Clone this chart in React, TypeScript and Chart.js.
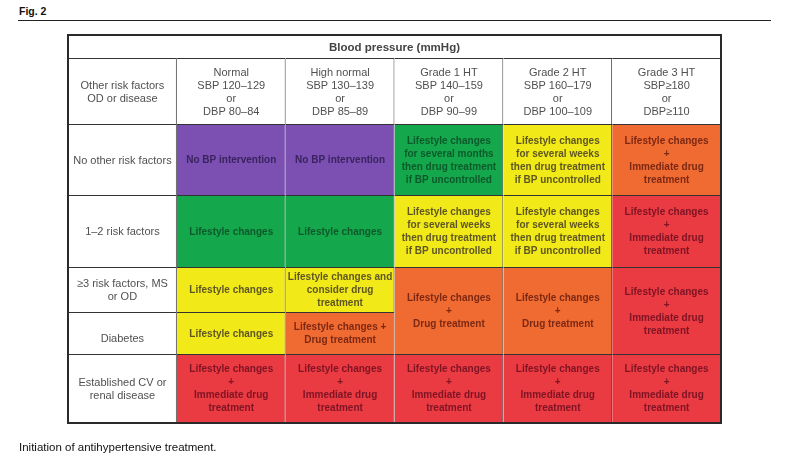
import React, { useEffect, useRef } from "react";
import { Chart, registerables } from "chart.js";

Chart.register(...registerables);

// ---------- DATA ----------
const figureLabel = "Fig. 2";
const caption = "Initiation of antihypertensive treatment.";
const headerTitle = "Blood pressure (mmHg)";
const stubHeader = ["Other risk factors", "OD or disease"];

const bpCategories = ["Normal", "High normal", "Grade 1 HT", "Grade 2 HT", "Grade 3 HT"];
const sbpRanges = ["SBP 120–129", "SBP 130–139", "SBP 140–159", "SBP 160–179", "SBP≥180"];
const dbpRanges = ["DBP 80–84", "DBP 85–89", "DBP 90–99", "DBP 100–109", "DBP≥110"];

const riskFactors = [
  ["No other risk factors"],
  ["1–2 risk factors"],
  ["≥3 risk factors, MS", "or OD"],
  ["Diabetes"],
  ["Established CV or", "renal disease"],
];

// recommendation per risk row x BP column (null = merged into the cell above)
const recNoRisk = ["none", "none", "lifestyleMonths", "lifestyleWeeks", "immediate"];
const recOneTwo = ["lifestyle", "lifestyle", "lifestyleWeeks", "lifestyleWeeks", "immediate"];
const recThreePlus = ["lifestyle", "lifestyleConsider", "lifestyleDrug", "lifestyleDrug", "immediate"];
const recDiabetes = ["lifestyle", "lifestyleDrugPlus", null, null, null];
const recEstablished = ["immediate", "immediate", "immediate", "immediate", "immediate"];

// added risk level per cell (drives the colour)
const lvlNoRisk = ["average", "average", "low", "moderate", "high"];
const lvlOneTwo = ["low", "low", "moderate", "moderate", "veryHigh"];
const lvlThreePlus = ["moderate", "moderate", "high", "high", "veryHigh"];
const lvlDiabetes = ["moderate", "high", null, null, null];
const lvlEstablished = ["veryHigh", "veryHigh", "veryHigh", "veryHigh", "veryHigh"];

// how many risk rows each cell spans
const spanNoRisk = [1, 1, 1, 1, 1];
const spanOneTwo = [1, 1, 1, 1, 1];
const spanThreePlus = [1, 1, 2, 2, 2];
const spanDiabetes = [1, 1, 0, 0, 0];
const spanEstablished = [1, 1, 1, 1, 1];

const recommendationText: Record<string, string[]> = {
  none: ["No BP intervention"],
  lifestyle: ["Lifestyle changes"],
  lifestyleMonths: ["Lifestyle changes", "for several months", "then drug treatment", "if BP uncontrolled"],
  lifestyleWeeks: ["Lifestyle changes", "for several weeks", "then drug treatment", "if BP uncontrolled"],
  lifestyleConsider: ["Lifestyle changes and", "consider drug", "treatment"],
  lifestyleDrugPlus: ["Lifestyle changes +", "Drug treatment"],
  lifestyleDrug: ["Lifestyle changes", "+", "Drug treatment"],
  immediate: ["Lifestyle changes", "+", "Immediate drug", "treatment"],
};

// ---------- LAYOUT / STYLE ----------
const rowHeights = [24, 66, 71, 72, 45, 42, 68]; // header, subheader, 5 risk rows
const levelFill: Record<string, string> = {
  average: "#7b50b2",
  low: "#15a74b",
  moderate: "#f1e918",
  high: "#f06b32",
  veryHigh: "#ea3a42",
};
const levelInk: Record<string, string> = {
  average: "#3a235e",
  low: "#0c5a2b",
  moderate: "#5f5722",
  high: "#7c2812",
  veryHigh: "#7e1424",
};
const LINE = "#333333";
const FONT = "'Liberation Sans', Arial, sans-serif";

const recRows = [recNoRisk, recOneTwo, recThreePlus, recDiabetes, recEstablished];
const lvlRows = [lvlNoRisk, lvlOneTwo, lvlThreePlus, lvlDiabetes, lvlEstablished];
const spanRows = [spanNoRisk, spanOneTwo, spanThreePlus, spanDiabetes, spanEstablished];

const edges: number[] = rowHeights.reduce((acc: number[], h) => {
  acc.push(acc[acc.length - 1] + h);
  return acc;
}, [0]);

function buildDatasets() {
  const ds: any[] = [];
  const nCols = bpCategories.length + 1;
  ds.push({
    label: "header",
    data: Array.from({ length: nCols }, () => [edges[0], edges[1]]),
    backgroundColor: "#ffffff",
    borderColor: LINE,
    borderWidth: { top: 0, left: 0, right: 0, bottom: 1 },
    cellLines: Array.from({ length: nCols }, () => []),
    cellInk: "#333",
    cellFont: "normal",
  });
  ds.push({
    label: "subheader",
    data: Array.from({ length: nCols }, () => [edges[1], edges[2]]),
    backgroundColor: "#ffffff",
    borderColor: LINE,
    borderWidth: { top: 0, left: 0, right: 1, bottom: 1 },
    cellLines: [stubHeader, ...bpCategories.map((c, i) => [c, sbpRanges[i], "or", dbpRanges[i]])],
    cellInk: "#505050",
    cellFont: "normal",
  });
  riskFactors.forEach((rf, r) => {
    const top = edges[r + 2];
    const data: any[] = [[top, edges[r + 3]]];
    const bg: string[] = ["#ffffff"];
    const ink: string[] = ["#505050"];
    const lines: string[][] = [rf];
    recRows[r].forEach((rec, c) => {
      const lvl = lvlRows[r][c];
      const span = spanRows[r][c];
      if (rec === null || lvl === null || span === 0) {
        data.push(null);
        bg.push("#ffffff");
        ink.push("#000");
        lines.push([]);
      } else {
        data.push([top, edges[r + 2 + span]]);
        bg.push(levelFill[lvl]);
        ink.push(levelInk[lvl]);
        lines.push(recommendationText[rec]);
      }
    });
    ds.push({
      label: rf.join(" "),
      data,
      backgroundColor: bg,
      borderColor: LINE,
      borderWidth: { top: 0, left: 0, right: 1, bottom: 1 },
      cellLines: lines,
      cellInkArr: ink,
      cellFont: "bold",
    });
  });
  return ds;
}

const textPlugin = {
  id: "cellText",
  afterDatasetsDraw(chart: any) {
    const ctx = chart.ctx;
    ctx.save();
    chart.data.datasets.forEach((d: any, i: number) => {
      const meta = chart.getDatasetMeta(i);
      meta.data.forEach((el: any, j: number) => {
        const lines: string[] = d.cellLines?.[j] || [];
        if (!lines.length || d.data[j] == null) return;
        const isStub = j === 0;
        const bold = d.cellFont === "bold" && !isStub;
        ctx.font = `${bold ? "bold " : ""}${bold ? 10 : 11}px ${FONT}`;
        ctx.fillStyle = d.cellInkArr ? d.cellInkArr[j] : d.cellInk;
        ctx.textAlign = "center";
        ctx.textBaseline = "middle";
        const lh = 13;
        const cy = (el.y + el.base) / 2 + (isStub && lines[0] === "Diabetes" ? 5 : 0);
        const y0 = cy - ((lines.length - 1) * lh) / 2;
        lines.forEach((t, k) => ctx.fillText(t, el.x, y0 + k * lh));
      });
    });
    // spanning header title
    const hm = chart.getDatasetMeta(0).data[0];
    const a = chart.chartArea;
    ctx.font = `bold 11.5px ${FONT}`;
    ctx.fillStyle = "#444444";
    ctx.textAlign = "center";
    ctx.textBaseline = "middle";
    ctx.fillText(headerTitle, (a.left + a.right) / 2, (hm.y + hm.base) / 2 + 0.5);
    // outer frame
    ctx.strokeStyle = "#2a2a2a";
    ctx.lineWidth = 2;
    ctx.strokeRect(a.left, a.top, a.right - a.left, a.bottom - a.top);
    ctx.restore();
  },
};

export default function App() {
  const ref = useRef<HTMLCanvasElement | null>(null);
  useEffect(() => {
    if (!ref.current) return;
    const chart = new Chart(ref.current, {
      type: "bar",
      data: {
        labels: ["Risk factors", ...bpCategories],
        datasets: buildDatasets(),
      },
      options: {
        responsive: false,
        animation: false,
        devicePixelRatio: 1,
        layout: { padding: { left: 68, top: 35, right: 70, bottom: 39 } },
        datasets: {
          bar: {
            grouped: false,
            barPercentage: 1,
            categoryPercentage: 1,
            borderSkipped: false,
            inflateAmount: 0,
          },
        },
        scales: {
          x: { type: "category", display: false, offset: true, grid: { display: false } },
          y: { type: "linear", display: false, min: 0, max: edges[edges.length - 1], reverse: true },
        },
        plugins: { legend: { display: false }, tooltip: { enabled: false }, title: { display: false } },
      } as any,
      plugins: [textPlugin],
    });
    return () => chart.destroy();
  }, []);

  return (
    <div style={{ position: "fixed", left: 0, top: 0, width: 791, height: 462, background: "#fff" }}>
      <div
        style={{
          position: "absolute",
          left: 19,
          top: 5,
          font: `bold 10.5px ${FONT}`,
          color: "#111",
        }}
      >
        {figureLabel}
      </div>
      <div style={{ position: "absolute", left: 18, top: 20, width: 753, height: 1, background: "#222" }} />
      <canvas ref={ref} width={791} height={462} style={{ position: "absolute", left: 0, top: 0 }} />
      <div
        style={{
          position: "absolute",
          left: 19,
          top: 441,
          font: `11.5px ${FONT}`,
          color: "#111",
          whiteSpace: "nowrap",
        }}
      >
        {caption}
      </div>
    </div>
  );
}
